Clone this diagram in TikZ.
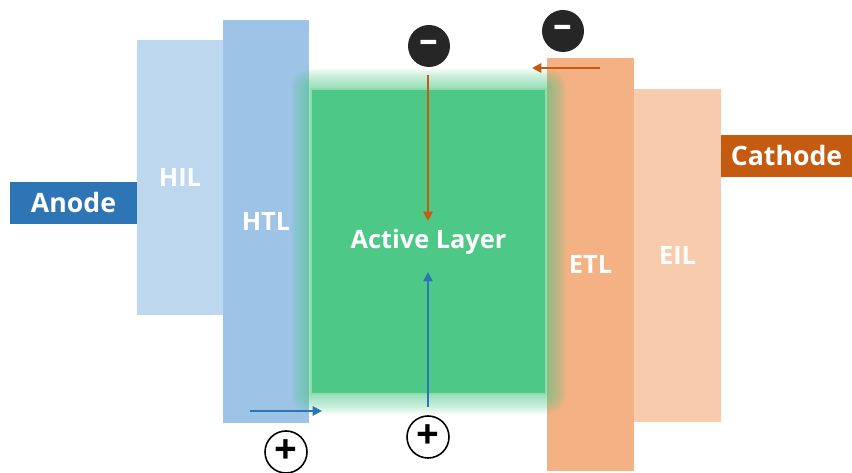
\documentclass[tikz,border=0pt]{standalone}
\usepackage{fontspec}
\setmainfont{Open Sans}
\usetikzlibrary{arrows.meta}

\definecolor{anodeblue}{RGB}{46,117,182}
\definecolor{hilblue}{RGB}{189,215,238}
\definecolor{htlblue}{RGB}{157,195,230}
\definecolor{actgreen}{RGB}{77,200,134}
\definecolor{actedge}{RGB}{140,221,176}
\definecolor{etlorange}{RGB}{244,177,131}
\definecolor{eilorange}{RGB}{248,203,173}
\definecolor{cathodeorange}{RGB}{197,90,17}
\definecolor{chargedark}{RGB}{38,38,38}

\tikzset{every picture/.style={line width=0.75pt}}
\tikzset{
  layer/.style={rectangle, inner sep=0pt, draw=none, text=white, font=\fontsize{19}{22}\selectfont\bfseries},
  electrode/.style={layer, font=\fontsize{20}{23}\selectfont\bfseries},
  electron/.style={circle, inner sep=0pt, minimum size=31.5pt, fill=chargedark, text=white, font=\fontsize{28}{28}\selectfont\bfseries},
  hole/.style={circle, inner sep=0pt, minimum size=31.5pt, draw=black, line width=1.2pt, fill=white, font=\fontsize{30}{30}\selectfont\bfseries},
  drift/.style={line width=1.5pt, -{Triangle[length=7pt,width=7pt]}}
}

\begin{document}
\begin{tikzpicture}[x=0.75pt,y=0.75pt,yscale=-1,xscale=1]
\useasboundingbox (0,0) rectangle (852,473);

% Electrodes and transport layers
\node [electrode, fill=anodeblue, minimum width=95.25pt, minimum height=31.5pt] (anode) at (73.5,203) {Anode};
\node [layer, fill=hilblue, minimum width=64.5pt, minimum height=206.25pt] (hil) at (180,177.5) {HIL};
\node [layer, fill=htlblue, minimum width=64.5pt, minimum height=302.25pt] (htl) at (266,221.5) {HTL};
\node [layer, fill=etlorange, minimum width=65.25pt, minimum height=309.75pt] (etl) at (590.5,264.5) {ETL};
\node [layer, fill=eilorange, minimum width=65.25pt, minimum height=249.75pt] (eil) at (677.5,255.5) {EIL};
\node [electrode, fill=cathodeorange, minimum width=98.25pt, minimum height=31.5pt] (cathode) at (786.5,156) {Cathode};

% Glow round the active layer
\foreach \g in {1,...,10}
  \fill [actgreen, opacity=0.08, rounded corners=1.5*\g] ({311-2*\g},{89-2*\g}) rectangle ({546+2*\g},{394+2*\g});

\node [layer, fill=actgreen, draw=actedge, line width=1.5pt, minimum width=176.25pt, minimum height=228.75pt] (active) at (428.5,241.5) {Active Layer};

% Charges
\node [electron] (eleft) at (429,46) {–};
\node [electron] (eright) at (563,31) {–};
\node [hole] (hleft) at (286,452) {+};
\node [hole] (hright) at (428,437) {+};

% Drift arrows
\coordinate (emeet) at (428,221);
\coordinate (hmeet) at (428,272);
\coordinate (estart) at (600,68);
\coordinate (eend) at (532,68);
\coordinate (hstart) at (250,411);
\coordinate (hend) at (322,411);

\draw [drift, cathodeorange, shorten <=6pt] (eleft.south -| emeet) -- (emeet);
\draw [drift, cathodeorange] (estart) -- (eend);
\draw [drift, anodeblue, shorten <=6pt] (hright.north -| hmeet) -- (hmeet);
\draw [drift, anodeblue] (hstart) -- (hend);

\end{tikzpicture}
\end{document}
